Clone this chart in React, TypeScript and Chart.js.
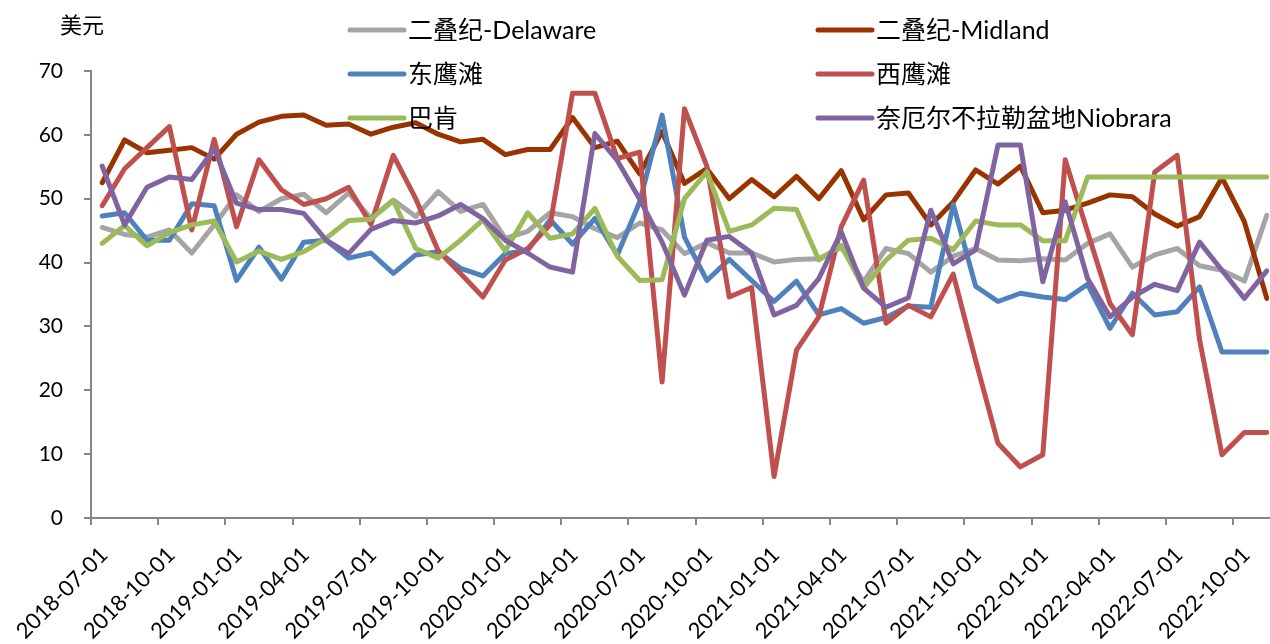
import React, { useEffect, useRef } from "react";
import { Chart, registerables } from "chart.js";

Chart.register(...registerables);

// Quarterly tick labels (one tick every 3 months, starting 2018-07)
const tickLabels = [
  "2018-07-01", "2018-10-01", "2019-01-01", "2019-04-01", "2019-07-01", "2019-10-01",
  "2020-01-01", "2020-04-01", "2020-07-01", "2020-10-01", "2021-01-01", "2021-04-01",
  "2021-07-01", "2021-10-01", "2022-01-01", "2022-04-01", "2022-07-01", "2022-10-01",
];
const monthsPerTick = 3;

const unitLabel = "美元";

const seriesNames = [
  "二叠纪-Delaware",
  "二叠纪-Midland",
  "东鹰滩",
  "西鹰滩",
  "巴肯",
  "奈厄尔不拉勒盆地Niobrara",
];
const seriesColors = ["#A5A5A5", "#993300", "#4F81BD", "#C0504D", "#9BBB59", "#8064A2"];

// Monthly values, 2018-07 .. 2022-11
const delaware = [
  45.5, 44.4, 44.0, 45.1, 41.5, 45.9, 50.6, 48.0, 50.0, 50.7, 47.8, 50.9, 46.9, 49.8,
  47.2, 51.1, 48.0, 49.1, 43.8, 44.9, 47.8, 47.2, 45.3, 43.9, 46.2, 45.1, 41.4, 43.1,
  41.5, 41.5, 40.1, 40.5, 40.6, 42.4, 37.0, 42.2, 41.4, 38.5, 41.0, 42.2, 40.4, 40.3,
  40.6, 40.4, 43.0, 44.5, 39.3, 41.2, 42.2, 39.5, 38.8, 37.1, 47.4,
];
const midland = [
  52.5, 59.2, 57.2, 57.6, 58.0, 56.2, 60.1, 62.0, 62.9, 63.1, 61.5, 61.7, 60.1, 61.2,
  61.9, 60.1, 58.9, 59.3, 56.9, 57.7, 57.7, 62.7, 58.0, 59.0, 53.9, 60.5, 52.4, 54.7,
  50.0, 53.0, 50.3, 53.5, 50.0, 54.4, 46.7, 50.6, 50.9, 45.9, 49.5, 54.5, 52.3, 55.1,
  47.8, 48.2, 49.3, 50.6, 50.3, 47.6, 45.7, 47.2, 53.3, 46.4, 34.4,
];
const eagleFordEast = [
  47.3, 47.8, 43.5, 43.5, 49.2, 48.9, 37.2, 42.4, 37.4, 43.2, 43.5, 40.7, 41.5, 38.3,
  41.2, 41.7, 39.1, 37.9, 41.4, 41.9, 46.7, 42.9, 46.9, 41.2, 49.5, 63.1, 44.0, 37.2,
  40.5, 37.2, 33.9, 37.1, 31.8, 32.8, 30.5, 31.4, 33.2, 33.0, 49.1, 36.3, 33.9, 35.2,
  34.6, 34.2, 36.6, 29.7, 35.2, 31.8, 32.3, 36.2, 26.0, 26.0, 26.0,
];
const eagleFordWest = [
  48.9, 54.7, 58.0, 61.3, 45.1, 59.3, 45.6, 56.1, 51.4, 49.1, 50.0, 51.8, 46.0, 56.8,
  50.0, 41.9, 38.3, 34.6, 40.4, 42.2, 45.9, 66.5, 66.5, 56.3, 57.3, 21.3, 64.1, 55.1,
  34.6, 36.1, 6.5, 26.3, 31.5, 45.6, 52.9, 30.5, 33.3, 31.5, 38.2, 24.7, 11.7, 8.0,
  9.9, 56.1, 44.8, 33.6, 28.7, 54.2, 56.8, 27.9, 9.9, 13.4, 13.4,
];
const bakken = [
  43.0, 45.8, 42.6, 44.7, 45.9, 46.5, 40.1, 41.8, 40.5, 41.7, 43.8, 46.6, 46.8, 49.7,
  42.2, 40.7, 43.5, 46.7, 41.8, 47.8, 43.8, 44.5, 48.5, 41.0, 37.2, 37.3, 50.0, 54.2,
  44.9, 45.9, 48.5, 48.3, 40.4, 42.7, 36.0, 40.4, 43.5, 43.8, 42.0, 46.5, 45.9, 45.9,
  43.4, 43.4, 53.4, 53.4, 53.4, 53.4, 53.4, 53.4, 53.4, 53.4, 53.4,
];
const niobrara = [
  55.1, 45.9, 51.8, 53.4, 53.0, 57.8, 49.3, 48.3, 48.3, 47.7, 43.5, 41.4, 45.2, 46.6,
  46.2, 47.3, 49.1, 46.9, 43.5, 41.5, 39.3, 38.5, 60.2, 56.0, 49.9, 43.2, 34.9, 43.5,
  44.1, 41.5, 31.8, 33.3, 37.5, 44.8, 36.0, 33.0, 34.5, 48.2, 39.8, 42.0, 58.4, 58.4,
  37.0, 49.5, 37.5, 31.5, 34.6, 36.6, 35.6, 43.2, 38.8, 34.4, 38.7,
];
const seriesValues = [delaware, midland, eagleFordEast, eagleFordWest, bakken, niobrara];

const yMin = 0;
const yMax = 70;
const yStep = 10;

const FONT = 'Lato, "Noto Sans CJK SC", sans-serif';

const overlayPlugin = {
  id: "overlay",
  afterDraw(chart: any) {
    const ctx = chart.ctx;
    ctx.save();
    ctx.fillStyle = "#000";
    ctx.textBaseline = "middle";
    ctx.textAlign = "left";
    ctx.font = `22px ${FONT}`;
    ctx.fillText(unitLabel, 60, 26);

    const colX = [350, 818];
    const rowY = [30, 74, 118];
    ctx.font = `25px ${FONT}`;
    chart.data.datasets.forEach((ds: any, i: number) => {
      const col = i % 2;
      const row = Math.floor(i / 2);
      const x0 = colX[col];
      const y = rowY[row];
      ctx.strokeStyle = ds.borderColor;
      ctx.lineWidth = 5;
      ctx.lineCap = "round";
      ctx.beginPath();
      ctx.moveTo(x0, y);
      ctx.lineTo(x0 + 54, y);
      ctx.stroke();
      ctx.fillStyle = "#000";
      ctx.fillText(ds.label, x0 + 58, y + 1);
    });
    ctx.restore();
  },
};

export default function App() {
  const canvasRef = useRef<HTMLCanvasElement | null>(null);

  useEffect(() => {
    if (!canvasRef.current) return;
    const datasets = seriesNames.map((name, si) => ({
      label: name,
      data: seriesValues[si].map((v, i) => ({ x: i + 0.5, y: v })),
      borderColor: seriesColors[si],
      backgroundColor: seriesColors[si],
      borderWidth: 5,
      pointRadius: 0,
      pointHoverRadius: 0,
      tension: 0,
      borderJoinStyle: "round" as const,
      borderCapStyle: "round" as const,
      order: seriesNames.length - si,
    }));

    const axisColor = "#868686";
    const chart = new Chart(canvasRef.current, {
      type: "line",
      data: { datasets },
      options: {
        animation: false,
        responsive: true,
        maintainAspectRatio: false,
        devicePixelRatio: 1,
        layout: { padding: { top: 71, right: 1, left: 0, bottom: 0 } },
        plugins: {
          legend: { display: false },
          tooltip: { enabled: false },
          title: { display: false },
        },
        scales: {
          x: {
            type: "linear",
            min: 0,
            max: 52.6,
            afterBuildTicks: (scale: any) => {
              scale.ticks = tickLabels.map((_, k) => ({ value: k * monthsPerTick }));
            },
            afterFit: (scale: any) => {
              scale.height = 126;
              scale.paddingLeft = 0;
              scale.paddingRight = 0;
            },
            grid: {
              display: true,
              drawOnChartArea: false,
              drawTicks: true,
              tickLength: 7,
              color: axisColor,
              lineWidth: 2,
            },
            border: { display: true, color: axisColor, width: 2 },
            ticks: {
              autoSkip: false,
              maxRotation: 45,
              minRotation: 45,
              padding: 17,
              labelOffset: 13,
              color: "#000",
              font: { family: FONT, size: 22 },
              callback: (_v: any, index: number) => tickLabels[index],
            },
          },
          y: {
            min: yMin,
            max: yMax,
            afterFit: (scale: any) => {
              scale.width = 91;
              scale.paddingTop = 0;
              scale.paddingBottom = 0;
            },
            grid: {
              display: true,
              drawOnChartArea: false,
              drawTicks: true,
              tickLength: 7,
              color: axisColor,
              lineWidth: 2,
            },
            border: { display: true, color: axisColor, width: 2 },
            ticks: {
              stepSize: yStep,
              padding: 21,
              color: "#000",
              font: { family: FONT, size: 21 },
            },
          },
        },
      },
      plugins: [overlayPlugin],
    });
    return () => chart.destroy();
  }, []);

  return (
    <div
      style={{
        position: "absolute",
        left: 0,
        top: 0,
        width: 1270,
        height: 644,
        background: "#fff",
      }}
    >
      <canvas ref={canvasRef} />
    </div>
  );
}
